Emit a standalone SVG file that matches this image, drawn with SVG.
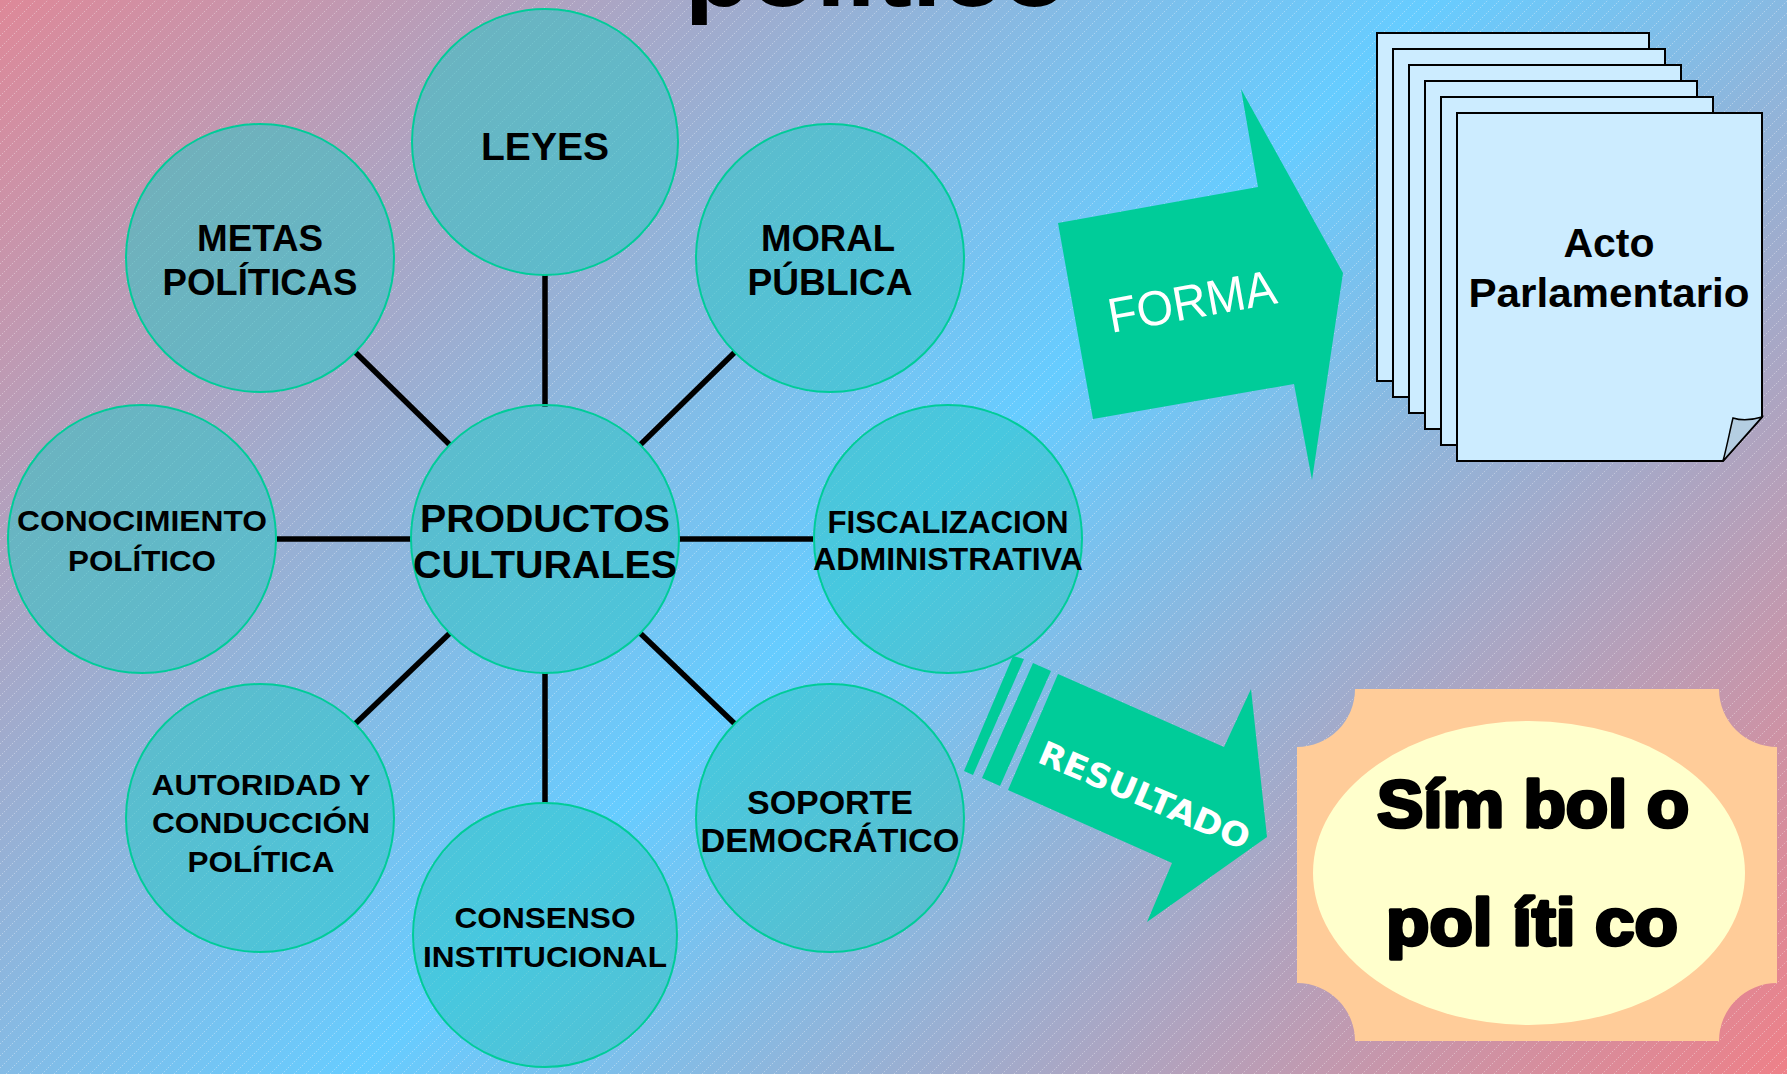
<svg xmlns="http://www.w3.org/2000/svg" width="1787" height="1074" viewBox="0 0 1787 1074">
<defs>
<linearGradient id="bg" gradientUnits="userSpaceOnUse" x1="0" y1="0" x2="1430" y2="1430">
<stop offset="0" stop-color="#DE8898"/>
<stop offset="0.5" stop-color="#66CCFF"/>
<stop offset="1" stop-color="#EE8088"/>
</linearGradient>
<pattern id="hatch" patternUnits="userSpaceOnUse" width="12" height="12">
<path d="M-3,3 L3,-3 M0,12 L12,0 M9,15 L15,9" stroke="#FFFFFF" stroke-opacity="0.35" stroke-width="1" stroke-dasharray="1.4 1.4"/>
</pattern>
<style>
.bubble{fill:#2EC4C4;fill-opacity:0.55;stroke:#00CC99;stroke-width:2}
.lbl{font-family:"Liberation Sans",Arial,sans-serif;font-weight:bold;fill:#000;text-anchor:middle}
.conn line{stroke:#000;stroke-width:5.5}
.sheet{fill:#CCECFF;stroke:#000;stroke-width:2}
.arrow{fill:#00CC99}
</style>
</defs>
<rect x="0" y="0" width="1787" height="1074" fill="url(#bg)"/>
<rect x="0" y="0" width="1787" height="1074" fill="url(#hatch)"/>

<g id="title">
<text class="lbl" x="876" y="6" font-size="90" textLength="383" lengthAdjust="spacingAndGlyphs">político</text>
</g>

<g id="connectors" class="conn">
<line x1="545" y1="275" x2="545" y2="407"/>
<line x1="545" y1="672" x2="545" y2="803"/>
<line x1="277" y1="539" x2="411" y2="539"/>
<line x1="679" y1="539" x2="813" y2="539"/>
<line x1="355" y1="352" x2="450" y2="445"/>
<line x1="640" y1="445" x2="735" y2="352"/>
<line x1="450" y1="633" x2="355" y2="724"/>
<line x1="640" y1="633" x2="735" y2="724"/>
</g>

<g id="node-productos">
<circle class="bubble" cx="545" cy="539" r="134"/>
<text class="lbl" x="545" y="532" font-size="39" textLength="250" lengthAdjust="spacingAndGlyphs">PRODUCTOS</text>
<text class="lbl" x="545" y="578" font-size="39" textLength="264" lengthAdjust="spacingAndGlyphs">CULTURALES</text>
</g>
<g id="node-leyes">
<circle class="bubble" cx="545" cy="142" r="133"/>
<text class="lbl" x="545" y="160" font-size="38" textLength="128" lengthAdjust="spacingAndGlyphs">LEYES</text>
</g>
<g id="node-metas">
<circle class="bubble" cx="260" cy="258" r="134"/>
<text class="lbl" x="260" y="251" font-size="37" textLength="126" lengthAdjust="spacingAndGlyphs">METAS</text>
<text class="lbl" x="260" y="295" font-size="37" textLength="195" lengthAdjust="spacingAndGlyphs">POLÍTICAS</text>
</g>
<g id="node-moral">
<circle class="bubble" cx="830" cy="258" r="134"/>
<text class="lbl" x="828" y="251" font-size="37" textLength="134" lengthAdjust="spacingAndGlyphs">MORAL</text>
<text class="lbl" x="830" y="295" font-size="37" textLength="165" lengthAdjust="spacingAndGlyphs">PÚBLICA</text>
</g>
<g id="node-conocimiento">
<circle class="bubble" cx="142" cy="539" r="134"/>
<text class="lbl" x="142" y="531" font-size="30" textLength="250" lengthAdjust="spacingAndGlyphs">CONOCIMIENTO</text>
<text class="lbl" x="142" y="571" font-size="30" textLength="148" lengthAdjust="spacingAndGlyphs">POLÍTICO</text>
</g>
<g id="node-fiscalizacion">
<circle class="bubble" cx="948" cy="539" r="134"/>
<text class="lbl" x="948" y="533" font-size="30.5" textLength="241" lengthAdjust="spacingAndGlyphs">FISCALIZACION</text>
<text class="lbl" x="948" y="570" font-size="30.5" textLength="270" lengthAdjust="spacingAndGlyphs">ADMINISTRATIVA</text>
</g>
<g id="node-autoridad">
<circle class="bubble" cx="260" cy="818" r="134"/>
<text class="lbl" x="261" y="795" font-size="30" textLength="219" lengthAdjust="spacingAndGlyphs">AUTORIDAD Y</text>
<text class="lbl" x="261" y="833" font-size="30" textLength="218" lengthAdjust="spacingAndGlyphs">CONDUCCIÓN</text>
<text class="lbl" x="261" y="872" font-size="30" textLength="147" lengthAdjust="spacingAndGlyphs">POLÍTICA</text>
</g>
<g id="node-soporte">
<circle class="bubble" cx="830" cy="818" r="134"/>
<text class="lbl" x="830" y="814" font-size="32.5" textLength="166" lengthAdjust="spacingAndGlyphs">SOPORTE</text>
<text class="lbl" x="830" y="852" font-size="32.5" textLength="259" lengthAdjust="spacingAndGlyphs">DEMOCRÁTICO</text>
</g>
<g id="node-consenso">
<circle class="bubble" cx="545" cy="935" r="132"/>
<text class="lbl" x="545" y="928" font-size="30" textLength="181" lengthAdjust="spacingAndGlyphs">CONSENSO</text>
<text class="lbl" x="545" y="967" font-size="30" textLength="244" lengthAdjust="spacingAndGlyphs">INSTITUCIONAL</text>
</g>

<g id="arrow-forma">
<polygon class="arrow" points="1058,223 1258,187 1241,89 1343,273 1312,480 1294,384 1093,419"/>
<text x="1195" y="318" transform="rotate(-10.2 1195 318)" font-family="Liberation Sans, Arial, sans-serif" font-size="49" fill="#FFFFFF" text-anchor="middle" textLength="170" lengthAdjust="spacingAndGlyphs">FORMA</text>
</g>

<g id="arrow-resultado">
<polygon class="arrow" points="1013,656 1024,659 973,775 964,771"/>
<polygon class="arrow" points="1033,663 1051,671 1000,786 982,778"/>
<polygon class="arrow" points="1058,674 1224,747 1251,689 1267,837 1147,922 1172,863 1008,790"/>
<text x="1140" y="806" transform="rotate(23 1140 806)" font-family="Comic Sans MS, DejaVu Sans, sans-serif" font-weight="bold" font-size="33" fill="#FFFFFF" text-anchor="middle" textLength="226" lengthAdjust="spacingAndGlyphs">RESULTADO</text>
</g>

<g id="node-acto">
<rect class="sheet" x="1377" y="33" width="272" height="348"/>
<rect class="sheet" x="1393" y="49" width="272" height="348"/>
<rect class="sheet" x="1409" y="65" width="272" height="348"/>
<rect class="sheet" x="1425" y="81" width="272" height="348"/>
<rect class="sheet" x="1441" y="97" width="272" height="348"/>
<path class="sheet" d="M1457,113 H1762 V417 L1723,461 H1457 Z"/>
<path d="M1723,461 C1727,446 1730,430 1733,418 C1742,421 1752,420 1762,417 Z" fill="#B4CEE2" stroke="#000" stroke-width="1.5"/>
<text class="lbl" x="1609" y="257" font-size="41">Acto</text>
<text class="lbl" x="1609" y="307" font-size="41" textLength="281" lengthAdjust="spacingAndGlyphs">Parlamentario</text>
</g>

<g id="node-simbolo">
<path d="M1355,689 H1719 A58,58 0 0 0 1777,747 V983 A58,58 0 0 0 1719,1041 H1355 A58,58 0 0 0 1297,983 V747 A58,58 0 0 0 1355,689 Z" fill="#FFCC99"/>
<ellipse cx="1529" cy="873" rx="216" ry="152" fill="#FFFFCC"/>
<text class="lbl" x="1533" y="827" font-size="66" stroke="#000" stroke-width="3.5" stroke-linejoin="round" textLength="312" lengthAdjust="spacingAndGlyphs">Sím bol o</text>
<text class="lbl" x="1532" y="945" font-size="66" stroke="#000" stroke-width="3.5" stroke-linejoin="round" textLength="292" lengthAdjust="spacingAndGlyphs">pol íti co</text>
</g>
</svg>
